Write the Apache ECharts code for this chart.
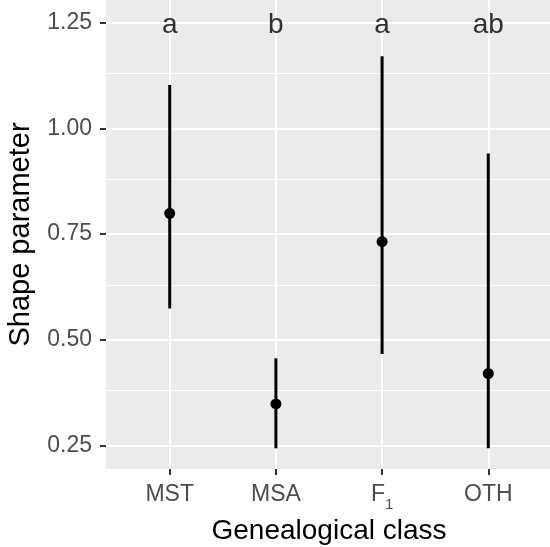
<!DOCTYPE html>
<html>
<head>
<meta charset="utf-8">
<script src="https://cdn.jsdelivr.net/npm/echarts@6/dist/echarts.min.js"></script>
<style>
	html, body { margin: 0; padding: 0; background: #fff; }
	#chart { width: 550px; height: 547px; }
</style>
</head>
<body>
<div id="chart"></div>
<script>
	// values
	const classes = ["MST", "MSA", "F1", "OTH"];
	const estimate = [0.799, 0.348, 0.732, 0.420];
	const lower = [0.574, 0.243, 0.466, 0.243];
	const upper = [1.103, 0.456, 1.171, 0.941];
	const letters = ["a", "b", "a", "ab"];
	const letterY = [1.245, 1.245, 1.245, 1.245];
	const yTicks = [0.25, 0.50, 0.75, 1.00, 1.25];
	const yMinor = [0.375, 0.625, 0.875, 1.125];

	const font = "'Liberation Sans', Arial, Helvetica, sans-serif";
	const xPos = classes.map((c, i) => i + 1);

	const chart = echarts.init(document.getElementById("chart"), null, { renderer: "canvas" });

	let gridLines = [];
	for (const v of yMinor) gridLines.push({ yAxis: v, lineStyle: { width: 1 } });
	for (const v of yTicks) gridLines.push({ yAxis: v, lineStyle: { width: 2 } });
	for (const v of xPos) gridLines.push({ xAxis: v, lineStyle: { width: 2 } });

	const option = {
		animation: false,
		textStyle: { fontFamily: font },
		grid: {
			left: 106, right: -2, top: 0, bottom: 78,
			outerBoundsMode: "none",
			containLabel: false,
			show: true, backgroundColor: "#EBEBEB", borderWidth: 0
		},
		xAxis: {
			type: "value",
			min: 0.4, max: 4.6,
			name: "Genealogical class",
			nameLocation: "middle",
			nameGap: 47,
			nameTextStyle: { fontSize: 28, color: "#000", fontFamily: font },
			axisLine: { show: false },
			splitLine: { show: false },
			axisTick: { show: true, customValues: xPos, length: 6, lineStyle: { color: "#333", width: 2 } },
			axisLabel: {
				customValues: xPos,
				margin: 14,
				fontSize: 23,
				color: "#4D4D4D",
				fontFamily: font,
				formatter: v => {
					const c = classes[Math.round(v) - 1];
					if (c === "F1") return "{f|F}{s|1}";
					return c;
				},
				rich: {
					f: { fontSize: 23, color: "#4D4D4D", fontFamily: font },
					s: { fontSize: 15, color: "#4D4D4D", fontFamily: font, verticalAlign: "bottom", padding: [0, 0, -6, 0] }
				}
			}
		},
		yAxis: {
			type: "value",
			min: 0.194, max: 1.304,
			name: "Shape parameter",
			nameLocation: "middle",
			nameGap: 71,
			nameRotate: 90,
			nameTextStyle: { fontSize: 29, color: "#000", fontFamily: font },
			axisLine: { show: false },
			splitLine: { show: false },
			axisTick: { show: true, customValues: yTicks, length: 6, lineStyle: { color: "#333", width: 2 } },
			axisLabel: {
				customValues: yTicks,
				margin: 14,
				fontSize: 23,
				color: "#4D4D4D",
				fontFamily: font,
				formatter: v => v.toFixed(2)
			}
		},
		series: [
			{
				// panel grid lines
				type: "line",
				data: [],
				z: 1,
				silent: true,
				markLine: {
					z: 1,
					silent: true,
					symbol: "none",
					label: { show: false },
					lineStyle: { color: "#fff", type: "solid" },
					emphasis: { disabled: true },
					data: gridLines
				}
			},
			{
				// error bars
				type: "custom",
				z: 3,
				silent: true,
				data: xPos.map((x, i) => [x, lower[i], upper[i]]),
				encode: { x: 0, y: [1, 2] },
				renderItem: (params, api) => {
					const p1 = api.coord([api.value(0), api.value(1)]);
					const p2 = api.coord([api.value(0), api.value(2)]);
					return {
						type: "line",
						shape: { x1: p1[0], y1: p1[1], x2: p2[0], y2: p2[1] },
						style: { stroke: "#000", lineWidth: 3 }
					};
				}
			},
			{
				type: "scatter",
				z: 4,
				silent: true,
				symbol: "circle",
				symbolSize: 11,
				itemStyle: { color: "#000", opacity: 1 },
				data: xPos.map((x, i) => [x, estimate[i]])
			},
			{
				// group letters
				type: "scatter",
				z: 4,
				silent: true,
				symbolSize: 0,
				data: xPos.map((x, i) => [x, letterY[i]]),
				label: {
					show: true,
					position: "inside",
					fontSize: 28,
					color: "#000",
					fontFamily: font,
					formatter: p => letters[p.dataIndex]
				}
			}
		]
	};

	chart.setOption(option);
</script>
</body>
</html>
